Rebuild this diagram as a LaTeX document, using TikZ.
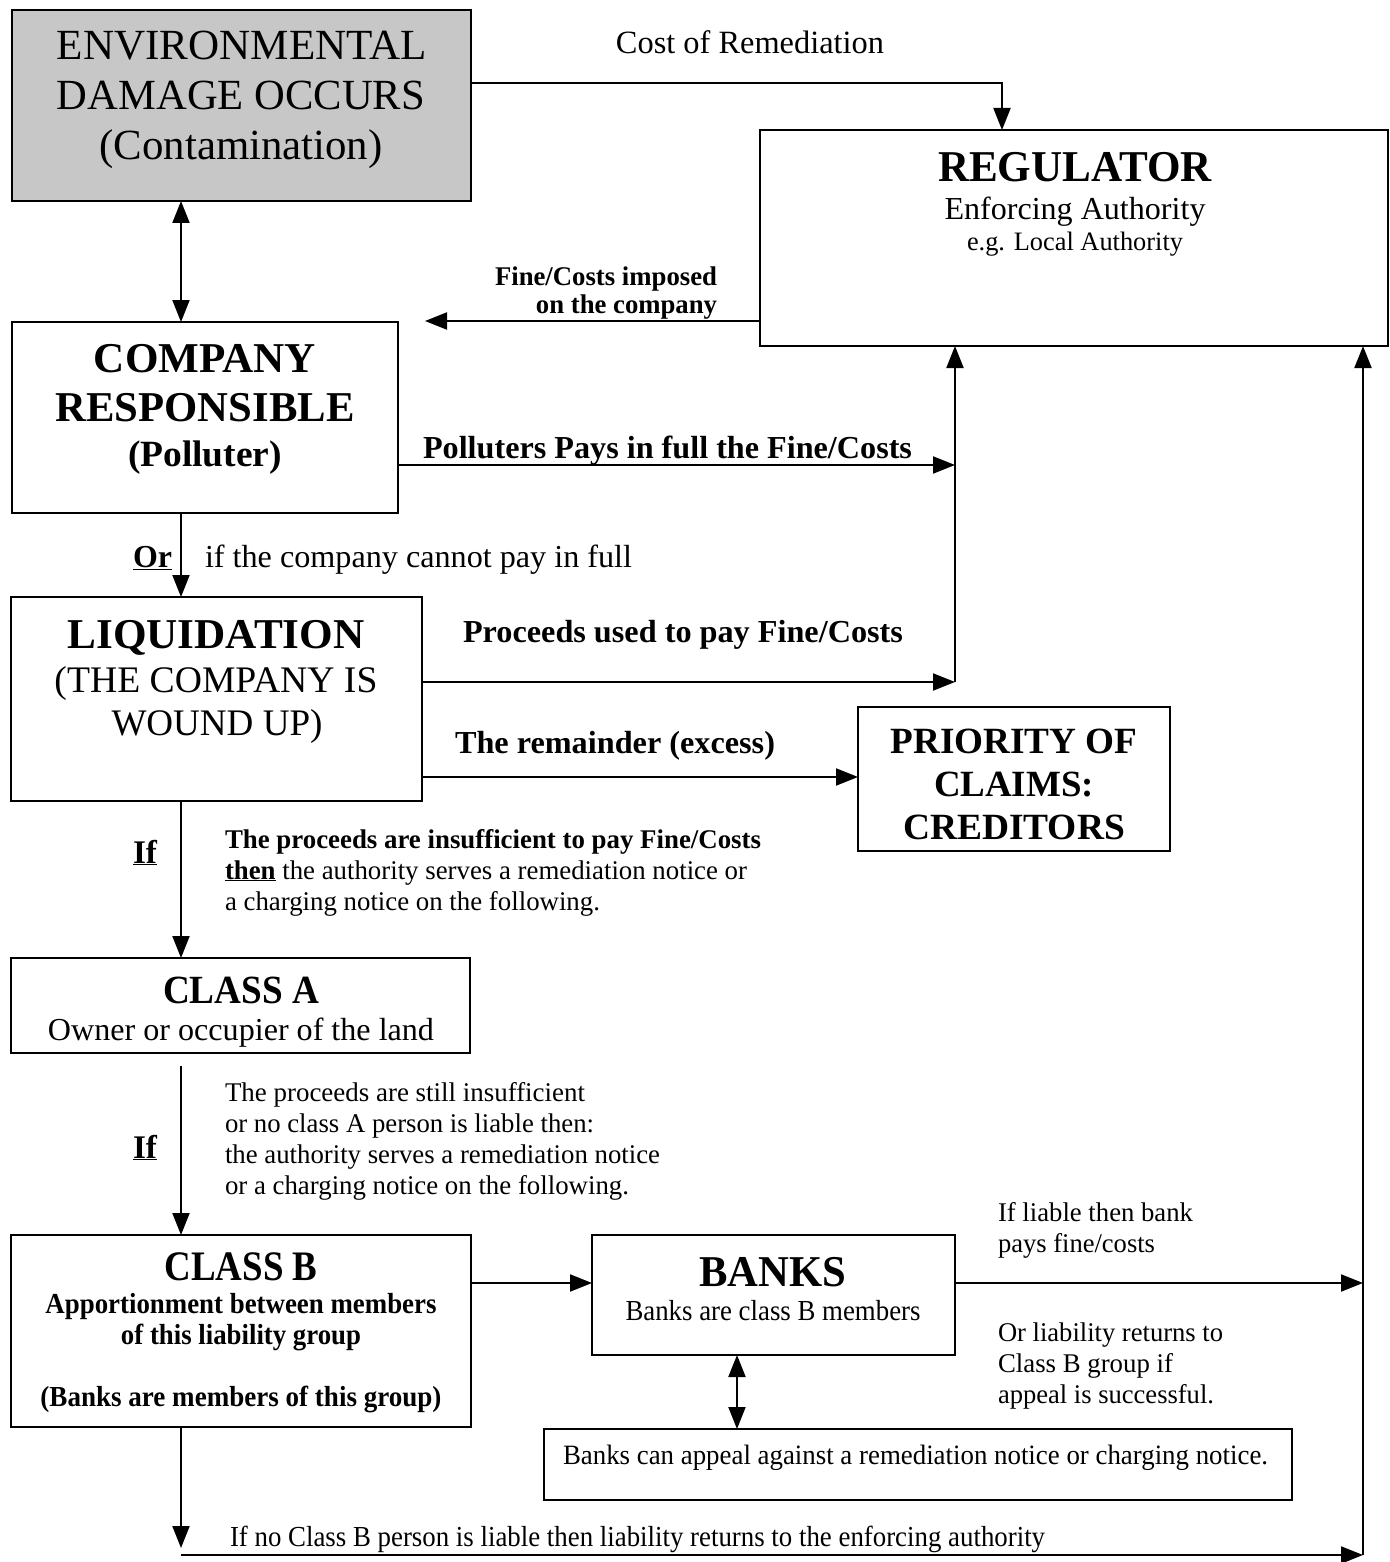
\documentclass[tikz,border=0pt]{standalone}
\usepackage{fontspec}
\setmainfont{Liberation Serif}
\usepackage{graphicx}
\usetikzlibrary{arrows.meta}
\newcommand{\T}[3]{\resizebox{#2pt}{\height}{\fontsize{#1pt}{#1pt}\selectfont #3}}
\begin{document}
\begin{tikzpicture}[x=1pt,y=-1pt,
 box/.style={draw, line width=2pt, inner sep=0pt, outer sep=0pt},
 arr/.style={line width=2pt, -{Triangle[length=22pt,width=17pt]}},
 darr/.style={line width=2pt, {Triangle[length=22pt,width=17pt]}-{Triangle[length=22pt,width=17pt]}},
 tx/.style={inner sep=0pt, outer sep=0pt, anchor=base},
 tl/.style={inner sep=0pt, outer sep=0pt, anchor=base west},
 tr/.style={inner sep=0pt, outer sep=0pt, anchor=base east}]
\useasboundingbox (0,0) rectangle (1389,1562);

% boxes
\node[box, fill=black!22, minimum width=459pt, minimum height=191pt] (env) at (241.5,105.5) {};
\node[box, minimum width=628pt, minimum height=216pt] (reg) at (1074,238) {};
\node[box, minimum width=386pt, minimum height=191pt] (comp) at (205,417.5) {};
\node[box, minimum width=411pt, minimum height=204pt] (liq) at (216.5,699) {};
\node[box, minimum width=312pt, minimum height=144pt] (prio) at (1014,779) {};
\node[box, minimum width=459pt, minimum height=95pt] (classA) at (240.5,1005.5) {};
\node[box, minimum width=460pt, minimum height=192pt] (classB) at (241,1331) {};
\node[box, minimum width=363pt, minimum height=120pt] (banks) at (773.5,1295) {};
\node[box, minimum width=748pt, minimum height=71pt] (appeal) at (918,1464.5) {};

% helper coordinates
\coordinate (v181) at (181,0);
\coordinate (v737) at (737,0);
\coordinate (v955) at (955,0);
\coordinate (v1002) at (1002,0);
\coordinate (v1363) at (1363,0);
\coordinate (h83) at (0,83);
\coordinate (h321) at (0,321);
\coordinate (h465) at (0,465);
\coordinate (h682) at (0,682);
\coordinate (h777) at (0,777);
\coordinate (h1283) at (0,1283);
\coordinate (fineend) at (425,321);
\coordinate (j465) at (955,465);
\coordinate (j682) at (955,682);
\coordinate (j1283) at (1363,1283);
\coordinate (botdown) at (181,1548);
\coordinate (botL) at (181,1555);
\coordinate (botR) at (1363,1555);

% connectors
\draw[arr] (env.east |- h83) -| (reg.north -| v1002);
\draw[darr] (env.south -| v181) -- (comp.north -| v181);
\draw[arr] (reg.west |- h321) -- (fineend);
\draw[arr] (comp.east |- h465) -- (j465);
\draw[arr] (liq.east |- h682) -- (j682);
\draw[arr] (j682) -- (reg.south -| v955);
\draw[arr] (liq.east |- h777) -- (prio.west |- h777);
\draw[arr] (comp.south -| v181) -- (liq.north -| v181);
\draw[arr] (liq.south -| v181) -- (classA.north -| v181);
\draw[arr, shorten <=13pt] (classA.south -| v181) -- (classB.north -| v181);
\draw[arr] (classB.east |- h1283) -- (banks.west |- h1283);
\draw[arr] (banks.east |- h1283) -- (j1283);
\draw[darr] (banks.south -| v737) -- (appeal.north -| v737);
\draw[arr] (classB.south -| v181) -- (botdown);
\draw[arr] (botL) -- (botR);
\draw[arr] (botR) -- (reg.south -| v1363);

% texts
\node[tx] (t1) at (242,60) {\T{43}{370}{ENVIRONMENTAL}};
\node[tx] (t2) at (241,110) {\T{43}{368}{DAMAGE OCCURS}};
\node[tx] (t3) at (241,160) {\T{43}{283}{(Contamination)}};
\node[tx] (t4) at (750,54) {\T{32.5}{268}{Cost of Remediation}};
\node[tx] (t5) at (1075,182) {\T{44}{274}{\bfseries REGULATOR}};
\node[tx] (t6) at (1075,220) {\T{32}{261}{Enforcing Authority}};
\node[tx] (t7) at (1075,251) {\T{26.6}{216}{e.g. Local Authority}};
\node[tr] (t8) at (717,285) {\T{27}{222}{\bfseries Fine/Costs imposed}};
\node[tr] (t9) at (717,313) {\T{27}{181}{\bfseries on the company}};
\node[tx] (t10) at (205,372) {\T{42.5}{222}{\bfseries COMPANY}};
\node[tx] (t11) at (205,421) {\T{42.5}{299}{\bfseries RESPONSIBLE}};
\node[tx] (t12) at (205,466) {\T{37}{154}{\bfseries (Polluter)}};
\node[tl] (t13) at (423,458) {\T{32}{489}{\bfseries Polluters Pays in full the Fine/Costs}};
\node[tl] (t14) at (133,567) {\T{32}{39}{\bfseries\underline{Or}}};
\node[tl] (t15) at (205,567) {\T{32}{427}{if the company cannot pay in full}};
\node[tx] (t16) at (216,648) {\T{42.5}{297}{\bfseries LIQUIDATION}};
\node[tx] (t17) at (216,692) {\T{37.5}{323}{(THE COMPANY IS}};
\node[tx] (t18) at (217,735) {\T{37.5}{211}{WOUND UP)}};
\node[tl] (t19) at (463,642) {\T{32}{440}{\bfseries Proceeds used to pay Fine/Costs}};
\node[tl] (t20) at (455,753) {\T{32}{320}{\bfseries The remainder (excess)}};
\node[tx] (t21) at (1014,753) {\T{37}{247}{\bfseries PRIORITY OF}};
\node[tx] (t22) at (1014,796) {\T{37}{160}{\bfseries CLAIMS:}};
\node[tx] (t23) at (1014,839) {\T{37}{222}{\bfseries CREDITORS}};
\node[tl] (t24) at (133,863) {\T{33}{24}{\bfseries\underline{If}}};
\node[tl] (t25) at (225,848) {\T{27}{536}{\bfseries The proceeds are insufficient to pay Fine/Costs}};
\node[tl] (t26) at (225,879) {\T{27}{522}{\textbf{\underline{then}} the authority serves a remediation notice or}};
\node[tl] (t27) at (225,910) {\T{27}{375}{a charging notice on the following.}};
\node[tx] (t28) at (241,1003) {\T{40}{156}{\bfseries CLASS A}};
\node[tx] (t29) at (241,1040) {\T{32}{386}{Owner or occupier of the land}};
\node[tl] (t30) at (133,1158) {\T{33}{24}{\bfseries\underline{If}}};
\node[tl] (t31) at (225,1101) {\T{27}{360}{The proceeds are still insufficient}};
\node[tl] (t32) at (225,1132) {\T{27}{369}{or no class A person is liable then:}};
\node[tl] (t33) at (225,1163) {\T{27}{435}{the authority serves a remediation notice}};
\node[tl] (t34) at (225,1194) {\T{27}{404}{or a charging notice on the following.}};
\node[tx] (t35) at (241,1280) {\T{42}{153}{\bfseries CLASS B}};
\node[tx] (t36) at (241,1313) {\T{29}{391}{\bfseries Apportionment between members}};
\node[tx] (t37) at (241,1344) {\T{29}{240}{\bfseries of this liability group}};
\node[tx] (t38) at (241,1406) {\T{29}{401}{\bfseries (Banks are members of this group)}};
\node[tx] (t39) at (773,1286) {\T{44}{147}{\bfseries BANKS}};
\node[tx] (t40) at (773,1320) {\T{29}{295}{Banks are class B members}};
\node[tl] (t41) at (998,1221) {\T{27}{195}{If liable then bank}};
\node[tl] (t42) at (998,1252) {\T{27}{157}{pays fine/costs}};
\node[tl] (t43) at (998,1341) {\T{27}{225}{Or liability returns to}};
\node[tl] (t44) at (998,1372) {\T{27}{175}{Class B group if}};
\node[tl] (t45) at (998,1403) {\T{27}{216}{appeal is successful.}};
\node[tl] (t46) at (563,1464) {\T{28}{705}{Banks can appeal against a remediation notice or charging notice.}};
\node[tl] (t47) at (230,1546) {\T{29}{815}{If no Class B person is liable then liability returns to the enforcing authority}};
\end{tikzpicture}
\end{document}
